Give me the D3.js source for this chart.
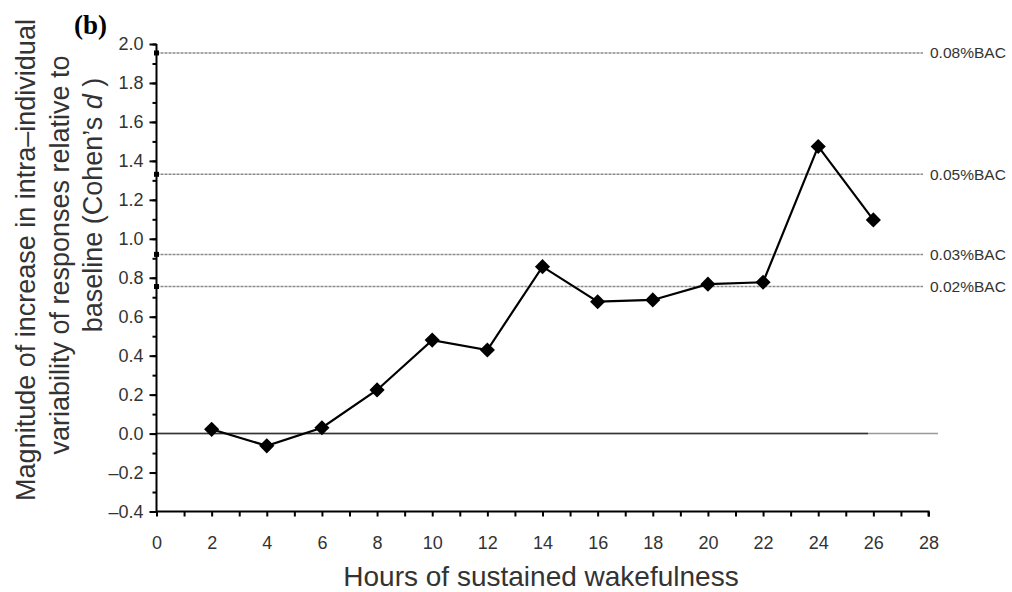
<!DOCTYPE html>
<html lang="en">
<head>
    <meta charset="UTF-8">
    <title>Intra-individual variability vs. hours awake</title>
    <style>
        body { margin: 0; background: #fff; }
        svg { font-family: "Liberation Sans", Arial, sans-serif; }
    </style>
</head>
<body>
    <script src="https://d3js.org/d3.v7.min.js"></script>
    <script>
        // data
        const hours = [2, 4, 6, 8, 10, 12, 14, 16, 18, 20, 22, 24, 26];
        const cohensD = [0.022, -0.063, 0.030, 0.224, 0.480, 0.429, 0.857, 0.677, 0.686, 0.767, 0.777, 1.474, 1.097];

        const bacLabels = ["0.08%BAC", "0.05%BAC", "0.03%BAC", "0.02%BAC"];
        const bacValues = [1.954, 1.331, 0.920, 0.755];

        const yTicks = [-0.4, -0.2, 0, 0.2, 0.4, 0.6, 0.8, 1.0, 1.2, 1.4, 1.6, 1.8, 2.0];
        const xTicks = [0, 2, 4, 6, 8, 10, 12, 14, 16, 18, 20, 22, 24, 26, 28];

        const width = 1012, height = 592;

        const svg = d3.select('body').append('svg')
            .attr('width', width)
            .attr('height', height);

        const x = d3.scaleLinear().domain([0, 28]).range([156.5, 928.5]);
        const y = d3.scaleLinear().domain([-0.4, 2.0]).range([511.5, 44]);

        // BAC reference lines (dotted grey)
        svg.selectAll('.bac')
            .data(bacValues)
            .enter().append('line')
            .attr('x1', x(0)).attr('x2', 923)
            .attr('y1', d => y(d)).attr('y2', d => y(d))
            .style('stroke', '#8a8a8a')
            .style('stroke-width', 1.5)
            .style('stroke-dasharray', '3,1');

        svg.selectAll('.bac-mark')
            .data(bacValues)
            .enter().append('rect')
            .attr('x', x(0) - 2.5).attr('y', d => y(d) - 2.5)
            .attr('width', 5).attr('height', 5)
            .style('fill', '#000');

        svg.selectAll('.bac-label')
            .data(bacLabels)
            .enter().append('text')
            .attr('x', 930)
            .attr('y', (d, i) => y(bacValues[i]) + 5.5)
            .attr('font-size', '15.5px')
            .style('fill', '#333')
            .text(d => d);

        // zero line
        svg.append('line')
            .attr('x1', x(0)).attr('x2', 938)
            .attr('y1', y(0)).attr('y2', y(0))
            .style('stroke', '#999').style('stroke-width', 1.5);
        svg.append('line')
            .attr('x1', x(0)).attr('x2', 868)
            .attr('y1', y(0)).attr('y2', y(0))
            .style('stroke', '#333').style('stroke-width', 1.5);

        // y axis: major + minor ticks
        const yMinor = d3.range(-0.4, 2.0001, 0.1).map(v => +v.toFixed(1));
        svg.append('g')
            .attr('transform', `translate(${x(0)},0)`)
            .call(d3.axisLeft(y).tickValues(yMinor).tickSize(4).tickFormat(''))
            .call(g => g.select('.domain').remove());
        const yAxis = svg.append('g')
            .attr('transform', `translate(${x(0)},0)`)
            .call(d3.axisLeft(y).tickValues(yTicks).tickSize(7).tickPadding(6)
                .tickFormat(d => (d < 0 ? '\u2013' + Math.abs(d).toFixed(1) : d.toFixed(1))));
        yAxis.select('.domain').attr('d', `M0,${y(-0.4)}V${y(2.0)}`);

        // x axis: tick every hour, label every 2
        const xAll = d3.range(0, 29);
        const xAxis = svg.append('g')
            .attr('transform', `translate(0,${y(-0.4)})`)
            .call(d3.axisBottom(x).tickValues(xAll).tickSize(5).tickPadding(20)
                .tickFormat(d => (xTicks.includes(d) ? d : '')));
        xAxis.select('.domain').attr('d', `M${x(0)},0H${x(28)}V5`);

        svg.selectAll('.tick text')
            .attr('font-size', '18px')
            .style('fill', '#333');
        svg.selectAll('.domain, .tick line')
            .style('stroke', '#000')
            .style('stroke-width', 2);

        // data line + diamonds
        const pts = hours.map((h, i) => [h, cohensD[i]]);
        svg.append('path')
            .datum(pts)
            .attr('d', d3.line().x(d => x(d[0])).y(d => y(d[1])))
            .style('fill', 'none')
            .style('stroke', '#000')
            .style('stroke-width', 2.2);

        svg.selectAll('.pt')
            .data(pts)
            .enter().append('path')
            .attr('d', d3.symbol().type(d3.symbolSquare).size(115))
            .attr('transform', d => `translate(${x(d[0])},${y(d[1])}) rotate(45)`)
            .style('fill', '#000');

        // titles
        svg.append('text')
            .attr('x', 541)
            .attr('y', 586)
            .attr('text-anchor', 'middle')
            .attr('font-size', '28px')
            .style('fill', '#333')
            .text('Hours of sustained wakefulness');

        const yTitle = [
            { t: 'Magnitude of increase in intra\u2013individual', cx: 35, cy: 260 },
            { t: 'variability of responses relative to', cx: 69, cy: 255 },
            { t: 'baseline (Cohen\u2019s ', cx: 102, cy: 205, d: true }
        ];
        yTitle.forEach(l => {
            const txt = svg.append('text')
                .attr('transform', `translate(${l.cx},${l.cy}) rotate(-90)`)
                .attr('text-anchor', 'middle')
                .attr('font-size', '27px')
                .style('fill', '#333');
            txt.append('tspan').text(l.t);
            if (l.d) {
                txt.append('tspan').style('font-style', 'italic').text('d');
                txt.append('tspan').text(' )');
            }
        });

        svg.append('text')
            .attr('x', 74)
            .attr('y', 34)
            .attr('font-family', '"Liberation Serif", "Times New Roman", serif')
            .attr('font-weight', 'bold')
            .attr('font-size', '27px')
            .text('(b)');
    </script>
</body>
</html>
